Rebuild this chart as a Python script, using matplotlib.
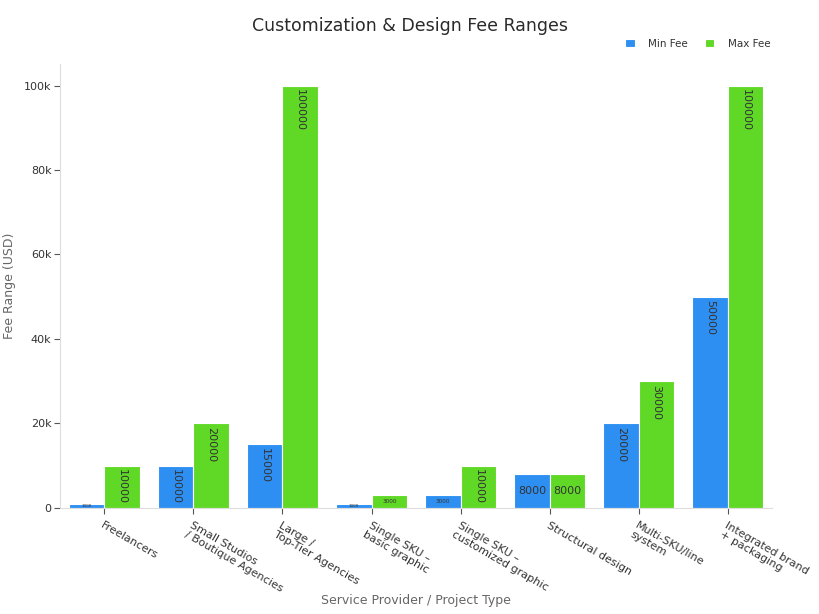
import numpy as np
import matplotlib
matplotlib.use("Agg")
import matplotlib.pyplot as plt

categories = [
    "Freelancers",
    "Small Studios\n/ Boutique Agencies",
    "Large /\nTop-Tier Agencies",
    "Single SKU –\nbasic graphic",
    "Single SKU –\ncustomized graphic",
    "Structural design",
    "Multi-SKU/line\nsystem",
    "Integrated brand\n+ packaging",
]
min_fee = [1000, 10000, 15000, 1000, 3000, 8000, 20000, 50000]
max_fee = [10000, 20000, 100000, 3000, 10000, 8000, 30000, 100000]
y_ticks = [0, 20000, 40000, 60000, 80000, 100000]
y_tick_labels = ["0", "20k", "40k", "60k", "80k", "100k"]

blue = "#2E8FF2"
green = "#60D826"
text_col = "#333333"

fig = plt.figure(figsize=(8.19, 6.14), dpi=100)
ax = fig.add_axes([0.073, 0.173, 0.87, 0.722])

x = np.arange(len(categories))
w = 0.4
b1 = ax.bar(x - w / 2, min_fee, w, color=blue, edgecolor="white", linewidth=0.8, label="Min Fee")
b2 = ax.bar(x + w / 2, max_fee, w, color=green, edgecolor="white", linewidth=0.8, label="Max Fee")

ax.set_xlim(-0.5, len(categories) - 0.5)
ax.set_ylim(0, 105000)
ax.set_yticks(y_ticks)
ax.set_yticklabels(y_tick_labels, fontsize=8, color=text_col)
ax.set_xticks(x)
ax.set_xticklabels(categories, rotation=-30, ha="left", rotation_mode="anchor",
                   fontsize=8, color=text_col, linespacing=1.05)
ax.tick_params(axis="both", colors="#555555", length=4, width=0.8)
ax.tick_params(axis="x", labelcolor=text_col, pad=5)
ax.tick_params(axis="y", labelcolor=text_col, pad=2)

for s in ["top", "right"]:
    ax.spines[s].set_visible(False)
for s in ["left", "bottom"]:
    ax.spines[s].set_color("#dddddd")

# value labels inside bars
px_per_unit = 422 / 100000
for bars, vals in [(b1, min_fee), (b2, max_fee)]:
    for rect, v in zip(bars, vals):
        cx = rect.get_x() + rect.get_width() / 2
        h_px = v * px_per_unit
        if h_px >= 40:
            ax.text(cx, v - 900, str(v), rotation=-90, ha="center", va="top",
                    fontsize=8, color=text_col)
        else:
            fs = min(8, max(3, h_px * 0.33))
            ax.text(cx, v / 2, str(v), ha="center", va="center",
                    fontsize=fs, color=text_col)

ax.set_xlabel("Service Provider / Project Type", fontsize=9, color="#666666")
ax.xaxis.set_label_coords(0.5, -0.195)
ax.set_ylabel("Fee Range (USD)", fontsize=9, color="#666666")
ax.yaxis.set_label_coords(-0.062, 0.5)

fig.text(0.5, 0.957, "Customization & Design Fee Ranges", ha="center", va="center",
         fontsize=12.5, color="#2a2a2a")
fig.legend(handles=[b1, b2], loc="center right", bbox_to_anchor=(0.952, 0.929), ncol=2,
           frameon=False, fontsize=7.5, handlelength=0.9, handleheight=0.9,
           columnspacing=1.6, handletextpad=1.3, labelcolor=text_col)

fig.savefig("out.png", dpi=100)
